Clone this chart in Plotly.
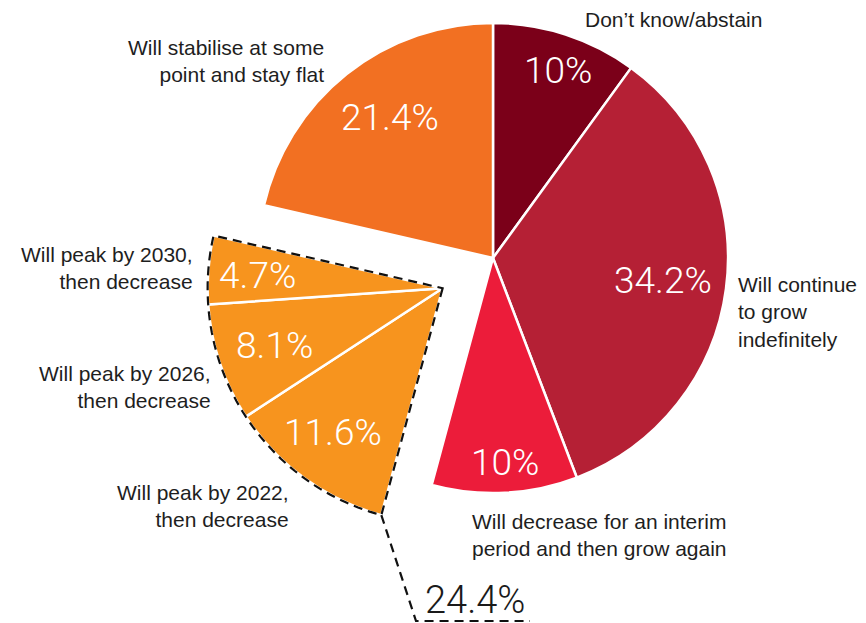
import numpy as np
import plotly.graph_objects as go

# views on the future of the metric (share of respondents, %)
labels = [
    "Don’t know/abstain",
    "Will continue<br>to grow<br>indefinitely",
    "Will decrease for an interim<br>period and then grow again",
    "Will peak by 2022,<br>then decrease",
    "Will peak by 2026,<br>then decrease",
    "Will peak by 2030,<br>then decrease",
    "Will stabilise at some<br>point and stay flat",
]
values = [10, 34.2, 10, 11.6, 8.1, 4.7, 21.4]
colors = ["#7b0019", "#b52035", "#ec1c3a", "#f7941e", "#f7941e", "#f7941e", "#f27022"]
in_group = [False, False, False, True, True, True, False]   # the "will peak" slices, pulled out together

W, H = 866, 623
OFF = 8                             # page body margin that shifts the figure
CX, CY, R = 493, 258, 235          # main pie centre / radius in window pixels
PULL = 0.25                         # pull of the grouped slices, fraction of radius

CLEAR = "rgba(0,0,0,0)"


def px(x, y):
    return (x - OFF) / W, 1 - (y - OFF) / H


def domain(cx, cy):
    x0, y1 = px(cx - R, cy - R)
    x1, y0 = px(cx + R, cy + R)
    return dict(x=[x0, x1], y=[y0, y1])


# angles (clockwise from 12 o'clock)
cum = np.concatenate([[0], np.cumsum(values)]) / sum(values) * 2 * np.pi
g_idx = [i for i, g in enumerate(in_group) if g]
a0, a1 = cum[g_idx[0]], cum[g_idx[-1] + 1]
mid = (a0 + a1) / 2
GX = CX + PULL * R * np.sin(mid)
GY = CY - PULL * R * np.cos(mid)

fig = go.Figure()
fig.add_trace(go.Pie(
    values=values, labels=[l.replace("<br>", " ") for l in labels],
    sort=False, direction="clockwise", rotation=0,
    marker=dict(colors=[CLEAR if g else c for c, g in zip(colors, in_group)],
                line=dict(color=[CLEAR if g else "white" for g in in_group], width=2.5)),
    textinfo="none", domain=domain(CX, CY), hoverinfo="label+value",
))
fig.add_trace(go.Pie(
    values=values, labels=[l.replace("<br>", " ") for l in labels],
    sort=False, direction="clockwise", rotation=0,
    marker=dict(colors=[c if g else CLEAR for c, g in zip(colors, in_group)],
                line=dict(color=["white" if g else CLEAR for g in in_group], width=2.5)),
    textinfo="none", domain=domain(GX, GY), hoverinfo="label+value",
))

# dashed outline round the pulled group
arc = np.linspace(a0, a1, 60)
pts = [(GX, GY)] + [(GX + R * np.sin(a), GY - R * np.cos(a)) for a in arc]
path = "M " + " L ".join(f"{px(x, y)[0]:.5f},{px(x, y)[1]:.5f}" for x, y in pts) + " Z"
DASH = "9px,6px"
fig.add_shape(type="path", path=path, xref="paper", yref="paper",
              line=dict(color="#111111", width=2.2, dash=DASH))

# bracket from the group down to the total
sx, sy = GX + R * np.sin(a0), GY - R * np.cos(a0)
bracket = [(sx, sy), (416, 621), (530, 621)]
bpath = "M " + " L ".join(f"{px(x, y)[0]:.5f},{px(x, y)[1]:.5f}" for x, y in bracket)
fig.add_shape(type="path", path=bpath, xref="paper", yref="paper",
              line=dict(color="#111111", width=2.2, dash=DASH))

# percentage labels inside slices
pct_pos = [(558, 70), (663, 280), (505, 462), (333, 432), (274, 345), (258, 275), (390, 117)]
pct_font = dict(family="Roboto", size=37, color="white", weight=300)
for v, (x, y) in zip(values, pct_pos):
    fx, fy = px(x, y)
    fig.add_annotation(x=fx, y=fy, xref="paper", yref="paper", text=f"{v:g}%",
                       showarrow=False, font=pct_font, xanchor="center", yanchor="middle")

group_total = sum(v for v, g in zip(values, in_group) if g)
fx, fy = px(475, 600)
fig.add_annotation(x=fx, y=fy, xref="paper", yref="paper", text=f"{group_total:.1f}%",
                   showarrow=False, xanchor="center", yanchor="middle",
                   font=dict(family="Roboto", size=38, color="#1a1a1a", weight=300))

# category labels
lab_pos = [(583, 20, "left"), (736, 312, "left"), (470, 535, "left"), (291, 506, "right"),
           (213, 387, "right"), (195, 268, "right"), (326, 61, "right")]
lab_font = dict(family="Liberation Sans", size=21, color="#1e1e1e")
for text, (x, y, anchor) in zip(labels, lab_pos):
    fx, fy = px(x, y)
    fig.add_annotation(x=fx, y=fy, xref="paper", yref="paper", text=text,
                       showarrow=False, font=lab_font, align=anchor,
                       xanchor=anchor, yanchor="middle")

fig.update_layout(
    width=W, height=H, margin=dict(l=0, r=0, t=0, b=0),
    paper_bgcolor="white", plot_bgcolor="white", showlegend=False,
)
fig.write_html("out.html")
